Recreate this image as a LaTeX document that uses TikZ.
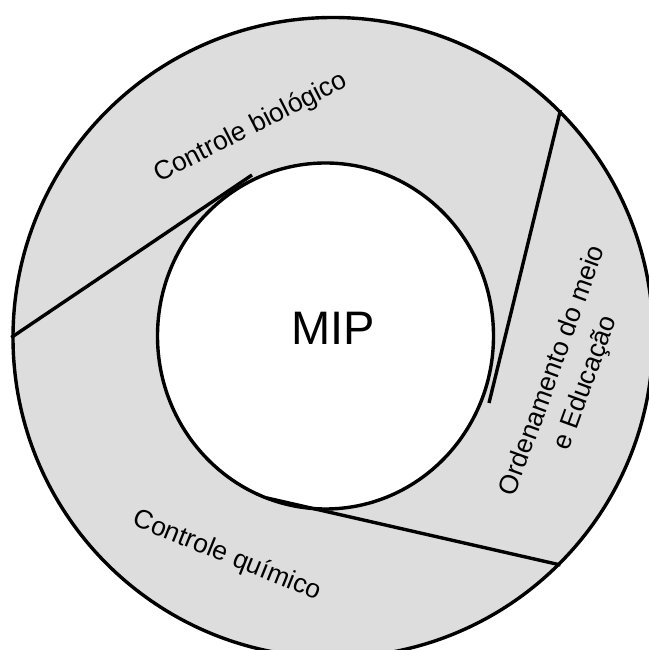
\documentclass[tikz,border=0pt]{standalone}
\usepackage{fontspec}
\setmainfont{Liberation Sans}
\usepackage{xcolor}
\usetikzlibrary{shapes.geometric}
\usetikzlibrary{calc}
\definecolor{ringgray}{HTML}{DDDDDD}

\begin{document}
\begin{tikzpicture}[
        x=1pt, y=1pt,
        ring/.style={circle, draw=black, line width=3.4pt, fill=ringgray, minimum size=640pt, inner sep=0pt},
        hole/.style={ellipse, draw=black, line width=3.4pt, fill=white, minimum width=336pt, minimum height=346pt, inner sep=0pt},
        lbl/.style={font=\fontsize{26.5}{35}\selectfont, align=center, inner sep=0pt},
        divider/.style={line width=3.4pt}
    ]
    \useasboundingbox (0,0) rectangle (648,650);

    \node[ring] (outer) at (333,312.5) {};
    \node[hole] (mip) at (325.5,314) {};
    \node[font=\fontsize{47}{47}\selectfont, inner sep=0pt] (miptext) at (333,321.5) {MIP};

    \coordinate (bio_end) at ($(mip.center)+(-73.5,161)$);
    \coordinate (edu_end) at ($(mip.center)+(163.5,-67)$);
    \coordinate (qui_start) at ($(mip.center)+(-58.5,-162)$);

    \draw[divider] (outer.180) to (bio_end);
    \draw[divider] (outer.45) to (edu_end);
    \draw[divider] (qui_start) to (outer.-45);

    \node[lbl, rotate=27] (bio) at (251,522) {Controle biológico};
    \node[lbl, rotate=-22] (qui) at (227,94) {Controle químico};
    \node[lbl, rotate=70] (edu) at (570,273) {Ordenamento do meio\\e Educação};
\end{tikzpicture}
\end{document}
